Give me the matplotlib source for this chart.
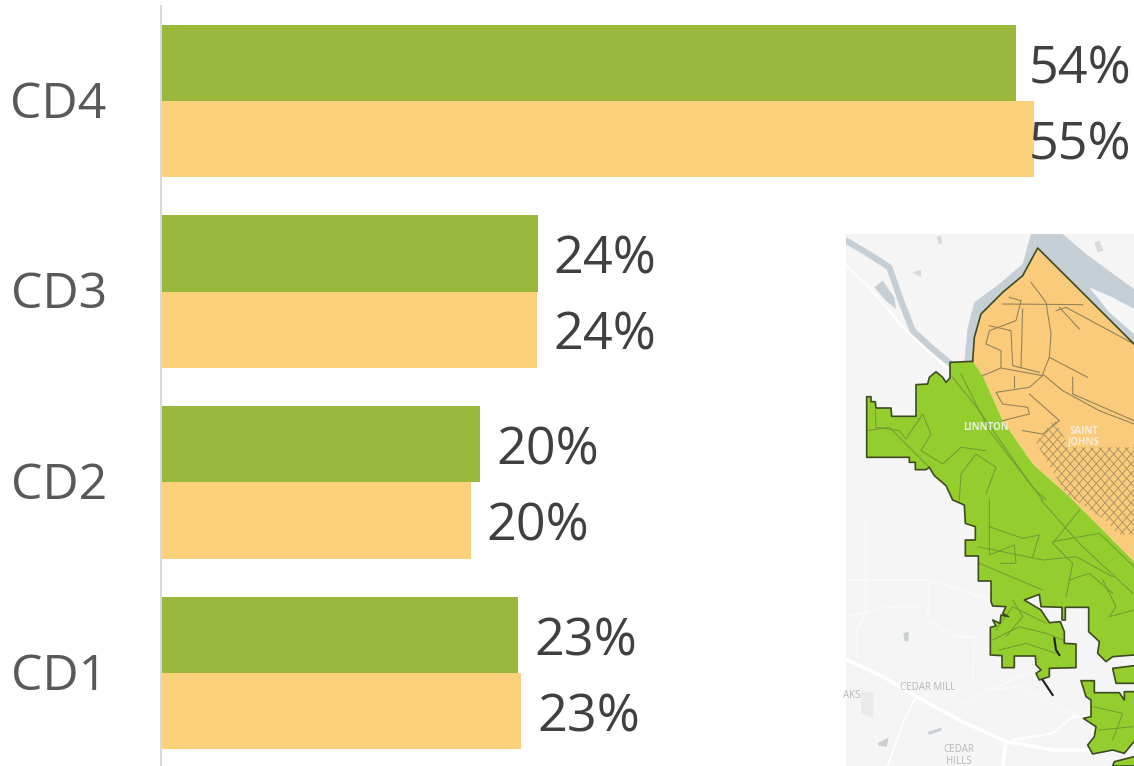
import numpy as np
import matplotlib
matplotlib.use("Agg")
import matplotlib.pyplot as plt
from matplotlib.patches import Polygon
from matplotlib.transforms import ScaledTranslation

plt.rcParams['font.family'] = ['Open Sans', 'DejaVu Sans']

# data
districts = ["CD1", "CD2", "CD3", "CD4"]
green_vals = [22.5, 20.1, 23.75, 53.95]
orange_vals = [22.7, 19.5, 23.7, 55.1]
green_labels = ["23%", "20%", "24%", "54%"]
orange_labels = ["23%", "20%", "24%", "55%"]

GREEN = "#99B83C"
ORANGE = "#FBD27B"

fig = plt.figure(figsize=(11.34, 7.66), dpi=100)
ax = fig.add_axes([161 / 1134, 0, 973 / 1134, 1])

y = np.arange(len(districts))
ax.barh(y + 0.2, green_vals, height=0.4, color=GREEN)
ax.barh(y - 0.2, orange_vals, height=0.4, color=ORANGE)

ax.set_xlim(-0.06, 973 / 15.83 - 0.06)
ax.set_ylim(-0.488, 3.53)
ax.set_yticks(y)
ax.set_yticklabels(districts, fontsize=36, color="#595959", va="center")
ax.tick_params(axis="y", length=0, pad=39)
ax.set_xticks([])
# Open Sans sits a bit high, move the names down
down = ScaledTranslation(0, -4 / 100, fig.dpi_scale_trans)
for lab in ax.get_yticklabels():
    lab.set_transform(lab.get_transform() + down)
for s in ["top", "right", "bottom"]:
    ax.spines[s].set_visible(False)
ax.spines["left"].set_color("#D9D9D9")
ax.spines["left"].set_linewidth(1.5)
ax.spines["left"].set_bounds(-0.488, 3.498)

# value labels, the longest ones stop at the right edge of the picture
for yy, v, lab in zip(y + 0.2, green_vals, green_labels):
    ax.text(min(v + 1.0, 54.75), yy - 0.035, lab, fontsize=37.5, color="#404040", va="center", ha="left", zorder=5)
for yy, v, lab in zip(y - 0.2, orange_vals, orange_labels):
    ax.text(min(v + 1.0, 54.75), yy - 0.035, lab, fontsize=37.5, color="#404040", va="center", ha="left", zorder=5)

# inset map, drawn in the pixel space of the crop
m = fig.add_axes([846 / 1134, 0, 288 / 1134, 532 / 766])
m.set_xlim(0, 288)
m.set_ylim(532, 0)
m.set_axis_off()
m.add_patch(Polygon([(0, 0), (288, 0), (288, 532), (0, 532)], fc="#F5F5F5", ec="none"))


def top(pts):
    return [(a / 3, b / 3) for a, b in pts]


def low(pts):
    return [(a / 3, 266 + b / 3) for a, b in pts]


RIVER = "#C6CFD6"
ROAD = "#FFFFFF"
EDGE = "#3F4A22"
ORANGE_MAP = "#FBCB7C"
GREEN_MAP = "#93CE2E"

# water
m.add_patch(Polygon(top([(555, 0), (650, 0), (720, 60), (864, 165), (864, 335), (740, 215), (575, 42)]), fc=RIVER, ec="none"))
m.add_patch(Polygon(top([(730, 160), (800, 190), (864, 225), (864, 300), (790, 235)]), fc="#F6F6F6", ec="none"))
m.add_patch(Polygon(top([(555, 0), (575, 42), (530, 125), (470, 175), (405, 240), (385, 310), (380, 385), (355, 385), (365, 280), (385, 205), (460, 150), (530, 90)]), fc=RIVER, ec="none"))
m.plot(*zip(*top([(0, 20), (60, 55), (130, 100), (165, 200), (200, 290), (260, 345), (315, 390)])), color=RIVER, lw=4.5, solid_capstyle="round")
m.add_patch(Polygon(top([(85, 160), (110, 140), (145, 190), (150, 225), (120, 200)]), fc=RIVER, ec="none"))
m.add_patch(Polygon(top([(198, 115), (225, 108), (225, 130)]), fc="#D5DADD", ec="none"))
m.add_patch(Polygon(top([(272, 8), (285, 5), (288, 30), (278, 30)]), fc="#D5DADD", ec="none"))
m.add_patch(Polygon(top([(745, 25), (760, 20), (772, 50), (755, 55)]), fc="#D5DADD", ec="none"))

# highways and background roads
m.plot(*zip(*top([(0, 95), (70, 160), (180, 290), (300, 400)])), color=ROAD, lw=1.5)
m.plot(*zip(*low([(0, 478), (110, 530), (210, 590), (350, 665), (480, 725), (620, 750), (730, 750)])), color=ROAD, lw=2.5)
m.plot(*zip(*low([(480, 725), (470, 798)])), color=ROAD, lw=2.5)
m.plot(*zip(*low([(210, 590), (170, 670), (125, 798)])), color=ROAD, lw=1.5)
m.plot(*zip(*low([(500, 720), (620, 700), (680, 650), (740, 650)])), color=ROAD, lw=1.5)
for pts in [[(60, 60), (60, 330), (30, 400), (35, 470)], [(0, 240), (250, 240), (340, 270), (430, 300)],
            [(250, 240), (245, 360), (330, 410), (385, 410), (380, 540)], [(330, 620), (560, 510)],
            [(0, 350), (130, 320), (230, 320)], [(420, 570), (520, 560), (700, 650)]]:
    m.plot(*zip(*low(pts)), color="#FBFBFB", lw=1.0)
m.add_patch(Polygon(low([(45, 575), (82, 575), (82, 655), (45, 640)]), fc="#E9EAEB", ec="none"))
m.add_patch(Polygon(low([(172, 400), (188, 395), (188, 425), (175, 422)]), fc="#C9CFD3", ec="none"))
m.add_patch(Polygon(low([(245, 695), (288, 683), (285, 692), (250, 705)]), fc="#C9CFD3", ec="none"))
m.add_patch(Polygon(low([(95, 730), (128, 712), (122, 740), (100, 738)]), fc="#C9CFD3", ec="none"))

# district polygons
orange_edge = top([(380, 382), (385, 310), (405, 240), (470, 175), (530, 125), (575, 42), (864, 330)])
orange_inner = top([(864, 983), (760, 878), (680, 798), (650, 770), (560, 690), (470, 560), (410, 425)])
green_edge = top([(380, 382), (312, 385), (312, 432), (300, 445), (290, 430), (270, 413), (250, 430), (245, 450),
                  (210, 452), (210, 547), (137, 547), (135, 522), (90, 522), (88, 503), (75, 503), (75, 488),
                  (62, 488), (62, 670), (190, 670), (190, 685), (208, 685), (208, 707), (240, 707), (250, 700),
                  (265, 725), (300, 755), (320, 798)]) + low([
    (320, 0), (355, 15), (358, 70), (388, 80), (388, 120), (358, 120), (358, 168), (397, 168), (397, 243),
    (435, 243), (435, 305), (440, 318), (480, 320), (470, 340), (488, 350), (465, 345), (462, 370), (440, 360),
    (450, 378), (433, 382), (433, 465), (468, 467), (468, 503), (505, 503), (505, 468), (568, 468), (570, 495),
    (585, 510), (570, 520), (580, 540), (610, 530), (610, 505), (690, 503), (690, 432), (655, 430), (655, 395),
    (643, 365), (610, 368), (585, 330), (535, 300), (580, 283), (585, 320), (648, 322), (648, 360), (658, 360),
    (658, 322), (728, 322), (728, 395), (760, 425), (755, 460), (780, 485), (800, 470), (864, 465)])
lower_a = low([(864, 497), (800, 505), (810, 550), (864, 550)])
lower_b = low([(864, 575), (835, 575), (835, 600), (820, 578), (745, 578), (745, 542), (705, 542), (720, 590),
               (735, 600), (735, 650), (712, 655), (750, 680), (745, 710), (725, 735), (740, 762), (800, 750),
               (835, 760), (864, 725)])
lower_c = low([(864, 770), (805, 785), (800, 798), (864, 798)])

m.add_patch(Polygon(orange_edge + orange_inner, fc=ORANGE_MAP, ec="none", zorder=3))
m.add_patch(Polygon(green_edge + orange_inner, fc=GREEN_MAP, ec="none", zorder=3))
for pts in [lower_a, lower_b, lower_c]:
    m.add_patch(Polygon(pts, fc=GREEN_MAP, ec="none", zorder=3))
    m.plot(*zip(*pts), color=EDGE, lw=1.2, zorder=6)
m.plot(*zip(*orange_edge), color=EDGE, lw=1.2, zorder=6)
m.plot(*zip(*green_edge), color=EDGE, lw=1.2, zorder=6)

# roads inside the orange part
orange_roads = [
    [(555, 145), (600, 205), (615, 300), (610, 370), (590, 420), (650, 470), (760, 530), (864, 570)],
    [(470, 210), (710, 212)], [(490, 190), (525, 200), (510, 260), (430, 290), (420, 330), (465, 350), (465, 400)],
    [(430, 275), (495, 290), (500, 395), (580, 415)], [(530, 225), (525, 400)],
    [(410, 425), (465, 402), (590, 425), (550, 460), (450, 475), (470, 510), (545, 520), (550, 540), (470, 560)],
    [(610, 370), (725, 430)], [(680, 430), (680, 480), (864, 560)], [(505, 425), (505, 460)],
    [(640, 220), (700, 285)], [(630, 230), (660, 220), (864, 330)], [(550, 480), (640, 560), (590, 600), (530, 590)],
]
for pts in orange_roads:
    m.plot(*zip(*top(pts)), color="#94835A", lw=0.8, zorder=4)

# St Johns street grid, clipped to the neighbourhood
grid_clip = Polygon(top([(570, 625), (625, 555), (670, 640), (864, 640), (864, 960), (780, 860), (660, 780)]),
                    transform=m.transData)
for t in np.arange(-300, 400, 26):
    l1, = m.plot(*zip(*top([(500 + t, 900), (900 + t, 450)])), color="#A38E62", lw=0.6, zorder=4)
    l2, = m.plot(*zip(*top([(500 + t, 450), (900 + t, 900)])), color="#A38E62", lw=0.6, zorder=4)
    l1.set_clip_path(grid_clip)
    l2.set_clip_path(grid_clip)

# roads inside the green part
green_roads_top = [
    [(320, 430), (400, 530), (490, 660), (560, 760), (600, 798)],
    [(345, 420), (430, 590), (530, 720), (590, 798)],
    [(88, 530), (90, 580), (160, 590), (180, 615), (230, 540), (255, 600), (225, 650), (290, 690), (345, 640), (420, 650)],
    [(62, 590), (130, 580), (200, 650), (250, 700)],
    [(340, 798), (345, 720), (390, 660), (450, 700), (420, 780)],
]
for pts in green_roads_top:
    m.plot(*zip(*top(pts)), color="#6F9A36", lw=0.7, zorder=4)
green_roads_low = [
    [(585, 0), (700, 130), (860, 280)], [(430, 0), (430, 165), (505, 135), (510, 190), (465, 190)],
    [(395, 140), (590, 180), (690, 170), (800, 230)], [(430, 80), (530, 115), (580, 105), (560, 170)],
    [(700, 30), (620, 130), (680, 190), (660, 290)], [(400, 190), (590, 270)], [(770, 240), (810, 320), (790, 350), (864, 330)],
    [(620, 125), (760, 100), (864, 200)], [(670, 240), (730, 220), (800, 280)],
    [(440, 420), (520, 380), (600, 400), (650, 420)], [(450, 390), (500, 320), (560, 350), (600, 370)],
    [(460, 450), (540, 430), (630, 460)], [(500, 300), (530, 350), (480, 410)],
    [(740, 620), (830, 640), (800, 720)], [(760, 690), (860, 680)],
]
for pts in green_roads_low:
    m.plot(*zip(*low(pts)), color="#6F9A36", lw=0.7, zorder=4)
m.plot(*zip(*low([(590, 540), (610, 570), (620, 585)])), color="#1E1E1E", lw=1.5, zorder=7)
m.plot(*zip(*low([(625, 415), (630, 450), (640, 465)])), color="#1E1E1E", lw=1.5, zorder=7)

# place names
m.text(140, 194, "LINNTON", fontsize=7, color="#E8EFE0", weight="bold", ha="center", va="center", zorder=8)
m.text(238, 197, "SAINT", fontsize=7, color="#F6ECD8", weight="bold", ha="center", va="center", zorder=8)
m.text(238, 208, "JOHNS", fontsize=7, color="#F6ECD8", weight="bold", ha="center", va="center", zorder=8)
m.text(82, 453, "CEDAR MILL", fontsize=7, color="#B5B8BA", ha="center", va="center", zorder=2)
m.text(113, 515, "CEDAR", fontsize=7, color="#B5B8BA", ha="center", va="center", zorder=2)
m.text(113, 527, "HILLS", fontsize=7, color="#B5B8BA", ha="center", va="center", zorder=2)
m.text(6, 461, "AKS", fontsize=7, color="#B5B8BA", ha="center", va="center", zorder=2)

fig.savefig("out.png", dpi=100)
